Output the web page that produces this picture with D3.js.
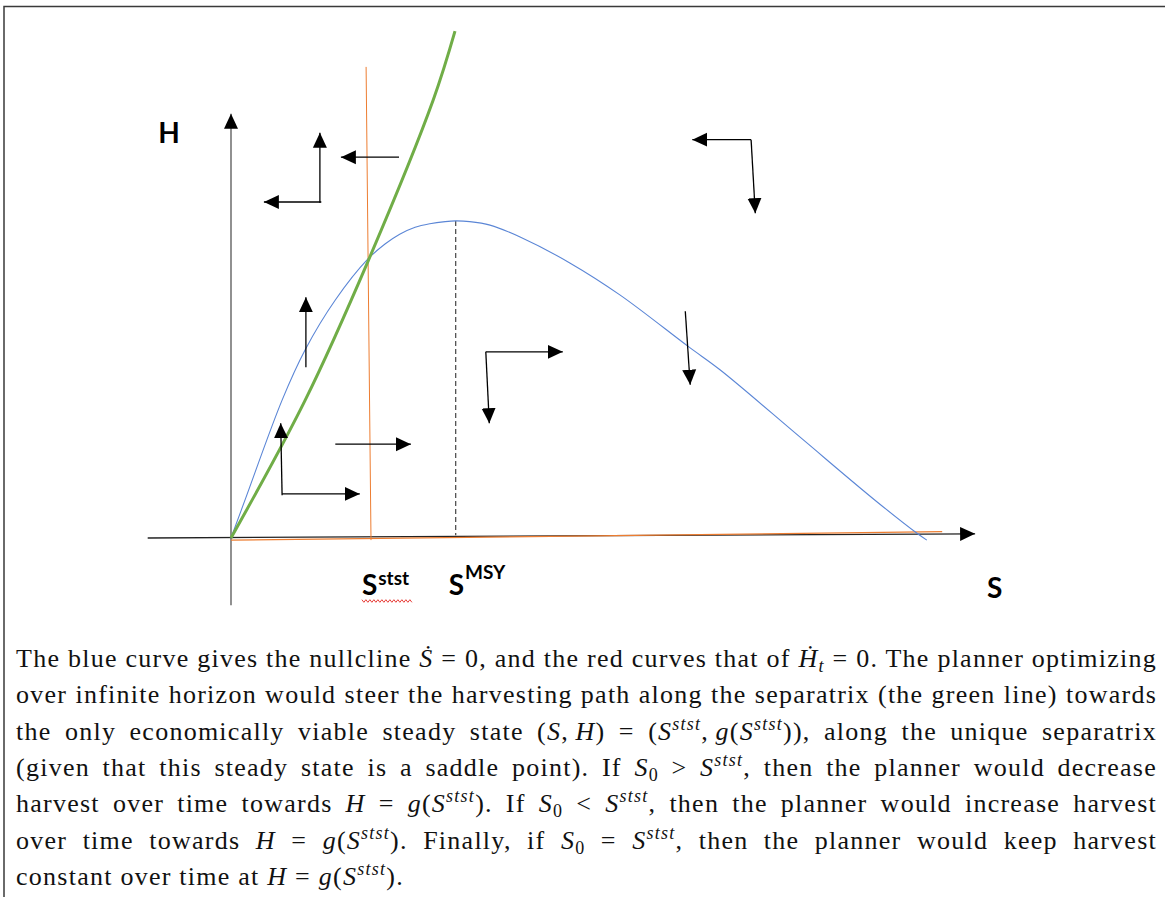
<!DOCTYPE html>
<html lang="en">
<head>
<meta charset="utf-8">
<title>Harvest phase diagram</title>
<script src="https://cdnjs.cloudflare.com/ajax/libs/d3/7.8.5/d3.min.js"></script>
<style>
  body { margin: 0; background: #fff; }
  .lbl { font-family: Lato, "Open Sans", sans-serif; font-weight: 700; fill: #000; }
  .para { font-family: "Liberation Serif", "Times New Roman", serif; font-size: 26px; letter-spacing: 1.25px; fill: #111; }
</style>
</head>
<body>
<script>
  // Curves, in (S, H) units
  const nullclineS = [[0,0],[2.1,5.7],[7.3,19.7],[10.6,26.9],[14.9,34],[19.6,39.9],[22,42],
                      [24.1,43.4],[26.3,44.4],[28.4,44.9],[30.6,45.2],[32.1,45.3],[34.1,45.2],
                      [37,44.7],[41.3,43],[48.4,39.3],[55.6,34.7],[65.4,27.3],[69.9,24],
                      [81.3,14.4],[92,5.4],[98.1,0.6],[99.4,-0.3]];
  const separatrix = [[0,0],[10.6,19.7],[19.6,39.6],[28.9,62.6],[32,72.4]];
  const nullclineHVert = [[19.3,67.3],[20,-0.3]];
  const nullclineHFlat = [[0,-0.3],[101.6,0.9]];
  const msyDash = [[32.1,45.3],[32.1,0.4]];
  const yAxisLine = [[0,-9.6],[0,60.6]];
  const xAxisLine = [[-11.9,0],[106.3,0.6]];

  // direction arrows: [S0, H0, S1, H1]
  const arrows = [
    [12.7,47.9,12.7,57.9], [12.9,48,4.7,48],
    [24,54.4,15.7,54.4],
    [74.3,56.9,65.9,56.9], [74.3,56.9,74.9,46.4],
    [10.7,24.4,10.7,34.4],
    [7.3,6.1,7.1,16.4], [7.3,6.3,18.4,6.3],
    [14.9,13.4,25.7,13.4],
    [36.4,26.6,47.4,26.6], [36.4,26.6,36.9,16.4],
    [64.9,32.4,65.6,21.9]
  ];

  // labels: [text, superscript, S, H, sup shift]
  const labels = [
    ["H", "", -10.4, 56.4, 0],
    ["S", "", 108, -8.6, 0],
    ["S", "stst", 18.7, -8.1, -10],
    ["S", "MSY", 31.1, -8.1, -16]
  ];

  // caption: *x* italic, ^x^ italic superscript, _x_ italic subscript, ~x~ subscript
  const caption = [
    "The blue curve gives the nullcline *Ṡ* = 0, and the red curves that of *Ḣ*_t_ = 0. The planner optimizing",
    "over infinite horizon would steer the harvesting path along the separatrix (the green line) towards",
    "the only economically viable steady state (*S*,\u2009*H*) = (*S*^stst^,\u2009*g*(*S*^stst^)), along the unique separatrix",
    "(given that this steady state is a saddle point). If *S*~0~ > *S*^stst^, then the planner would decrease",
    "harvest over time towards *H* = *g*(*S*^stst^). If *S*~0~ < *S*^stst^, then the planner would increase harvest",
    "over time towards *H* = *g*(*S*^stst^). Finally, if *S*~0~ = *S*^stst^, then the planner would keep harvest",
    "constant over time at *H* = *g*(*S*^stst^)."
  ];

  const W = 1165, H = 897;
  const x = d3.scaleLinear().domain([0, 100]).range([231, 931]);
  const y = d3.scaleLinear().domain([0, 100]).range([538, -162]);

  const svg = d3.select("body").append("svg")
    .attr("width", W).attr("height", H);

  svg.append("defs").append("marker")
    .attr("id", "head")
    .attr("markerUnits", "userSpaceOnUse")
    .attr("viewBox", "0 -8 16 16")
    .attr("markerWidth", 16).attr("markerHeight", 16)
    .attr("refX", 15).attr("refY", 0)
    .attr("orient", "auto")
    .append("path").attr("d", "M0,-7L15,0L0,7Z").attr("fill", "#000");

  // frame
  svg.append("path").attr("d", "M4,897V6.5H1165")
    .attr("fill", "none").attr("stroke", "#3a3a3a").attr("stroke-width", 1.5);

  const line = d3.line().x(d => x(d[0])).y(d => y(d[1]));
  const smooth = d3.line().x(d => x(d[0])).y(d => y(d[1])).curve(d3.curveCatmullRom.alpha(0.5));

  // axes
  svg.append("path").attr("d", line(yAxisLine))
    .attr("stroke", "#555").attr("stroke-width", 1.3).attr("marker-end", "url(#head)");
  svg.append("path").attr("d", line(xAxisLine))
    .attr("stroke", "#222").attr("stroke-width", 1.3).attr("marker-end", "url(#head)");

  // H-dot = 0 nullclines
  svg.append("path").attr("d", line(nullclineHFlat))
    .attr("fill", "none").attr("stroke", "#ed7d31").attr("stroke-width", 1.3);
  svg.append("path").attr("d", line(nullclineHVert))
    .attr("fill", "none").attr("stroke", "#ed7d31").attr("stroke-width", 1);

  svg.append("path").attr("d", line(msyDash))
    .attr("stroke", "#444").attr("stroke-width", 1.2).attr("stroke-dasharray", "5,3");

  // S-dot = 0 nullcline
  svg.append("path").attr("d", smooth(nullclineS))
    .attr("fill", "none").attr("stroke", "#5b86d6").attr("stroke-width", 1.1);

  // separatrix
  svg.append("path").attr("d", smooth(separatrix))
    .attr("fill", "none").attr("stroke", "#70ad47").attr("stroke-width", 3);

  svg.append("g").selectAll("line")
    .data(arrows).join("line")
    .attr("x1", d => x(d[0])).attr("y1", d => y(d[1]))
    .attr("x2", d => x(d[2])).attr("y2", d => y(d[3]))
    .attr("stroke", "#000").attr("stroke-width", 1.3)
    .attr("marker-end", "url(#head)");

  // axis / point labels
  labels.forEach(l => {
    const t = svg.append("text").attr("class", "lbl")
      .attr("x", x(l[2])).attr("y", y(l[3])).attr("font-size", 28);
    t.append("tspan").text(l[0]);
    if (l[1]) {
      t.append("tspan").attr("dx", 1).attr("dy", l[4]).attr("font-size", 19).text(l[1]);
    }
  });

  // spell-check squiggle under S^stst
  const sq = [];
  for (let px = x(18.7), i = 0; px <= x(26); px += 2, i++) sq.push([px, y(-9) + (i % 2 ? 1.3 : -1.3)]);
  svg.append("path").attr("d", d3.line()(sq))
    .attr("fill", "none").attr("stroke", "#e8413c").attr("stroke-width", 1);

  // caption, justified line by line
  const left = 16, right = 1157, base0 = 667, step = 36.3;
  caption.forEach((str, li) => {
    const t = svg.append("text").attr("class", "para")
      .attr("x", left).attr("y", base0 + li * step);
    const parts = str.split(/(\*[^*]+\*|\^[^^]+\^|_[^_]+_|~[^~]+~)/).filter(p => p.length);
    let shift = 0;
    parts.forEach(p => {
      let kind = "n", s = p;
      if (p[0] === "*") { kind = "i"; s = p.slice(1, -1); }
      else if (p[0] === "^") { kind = "sup"; s = p.slice(1, -1); }
      else if (p[0] === "_") { kind = "subi"; s = p.slice(1, -1); }
      else if (p[0] === "~") { kind = "sub"; s = p.slice(1, -1); }
      const dy = kind === "sup" ? -10 : (kind === "sub" || kind === "subi") ? 5 : 0;
      const ts = t.append("tspan").text(s);
      if (dy - shift !== 0) ts.attr("dy", dy - shift);
      shift = dy;
      if (kind !== "n" && kind !== "sub") ts.attr("font-style", "italic");
      if (kind === "sup" || kind === "sub" || kind === "subi") ts.attr("font-size", 18);
    });
    if (li < caption.length - 1) {
      const len = t.node().getComputedTextLength();
      const spaces = (t.text().match(/ /g) || []).length;
      t.style("word-spacing", ((right - left - len) / spaces) + "px");
    }
  });
</script>
</body>
</html>
